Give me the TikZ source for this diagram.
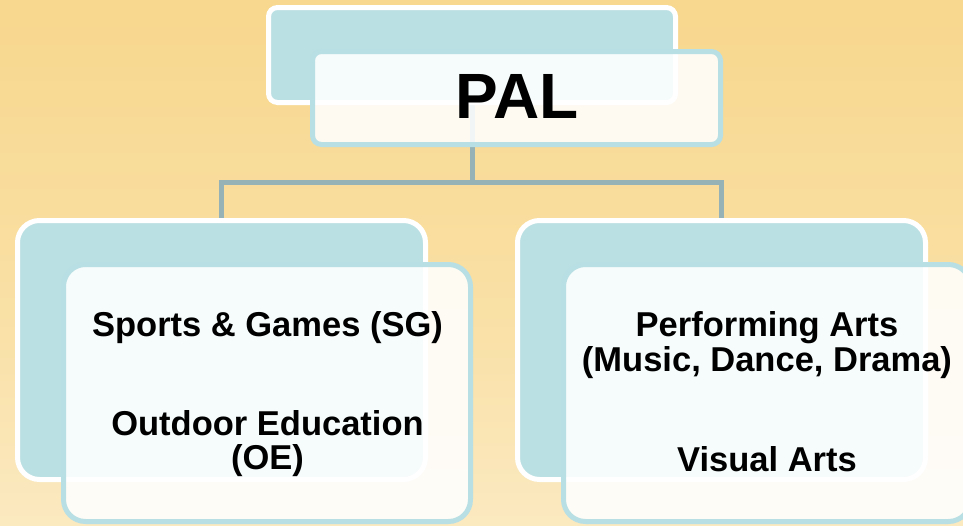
\documentclass[tikz,border=0pt]{standalone}
\usepackage{fontspec}
\setmainfont{Liberation Sans}
\definecolor{bgtop}{RGB}{247,208,122}
\definecolor{bgmid}{RGB}{249,224,165}
\definecolor{bgbot}{RGB}{253,244,226}
\definecolor{tealfill}{RGB}{187,224,227}
\definecolor{tealline}{RGB}{184,223,227}
\definecolor{connline}{RGB}{150,178,182}
\pgfdeclareverticalshading{bgshade}{100bp}{color(0bp)=(bgbot); color(45bp)=(bgmid); color(100bp)=(bgtop)}
\pgfdeclarelayer{bglayer}
\pgfdeclarelayer{connlayer}
\pgfdeclarelayer{frontlayer}
\pgfsetlayers{bglayer,connlayer,main,frontlayer}
\tikzset{
  backbox/.style={draw=white, line width=5pt, fill=tealfill, rectangle, inner sep=0pt},
  frontbox/.style={draw=tealline, line width=5pt, fill=white, fill opacity=0.88, rectangle, inner sep=0pt},
  conn/.style={draw=connline, line width=5pt},
  lbl/.style={font=\bfseries\fontsize{34.5}{38}\selectfont, anchor=base, inner sep=0pt, text=black},
}
\begin{document}
\begin{tikzpicture}[x=1pt,y=-1pt]
\useasboundingbox (0,0) rectangle (963,525);
\begin{pgfonlayer}{bglayer}
\shade[shading=bgshade] (0,0) rectangle (963,525);
\end{pgfonlayer}
% back boxes
\node[backbox, rounded corners=9pt, minimum width=407pt, minimum height=95pt] (tb) at (472,55) {};
\node[backbox, rounded corners=22pt, minimum width=408pt, minimum height=259pt] (lb) at (221.5,350) {};
\node[backbox, rounded corners=22pt, minimum width=408pt, minimum height=259pt] (rb) at (721.5,350) {};
\coordinate (j) at (472,182);
\begin{pgfonlayer}{connlayer}
\draw[conn] (tb.south) -- (j) -| (lb.north);
\draw[conn] (j) -| (rb.north);
\end{pgfonlayer}
% front boxes
\begin{pgfonlayer}{frontlayer}
\node[frontbox, rounded corners=9pt, minimum width=408pt, minimum height=93pt] (tf) at (516.5,98) {};
\node[frontbox, rounded corners=22pt, minimum width=407pt, minimum height=257pt] (lf) at (267,393) {};
\node[frontbox, rounded corners=22pt, minimum width=407pt, minimum height=257pt] (rf) at (767,393) {};
% texts
\node[lbl, font=\bfseries\fontsize{64}{70}\selectfont] (pal) at (517,118) {PAL};
\node[lbl] (sg) at (267.5,336.5) {Sports \& Games (SG)};
\node[lbl] (oe1) at (267.5,435) {Outdoor Education};
\node[lbl] (oe2) at (267.5,469.5) {(OE)};
\node[lbl] (pa1) at (767,336) {Performing Arts};
\node[lbl] (pa2) at (767,371) {(Music, Dance, Drama)};
\node[lbl] (va) at (767,471.5) {Visual Arts};
\end{pgfonlayer}
\end{tikzpicture}
\end{document}
